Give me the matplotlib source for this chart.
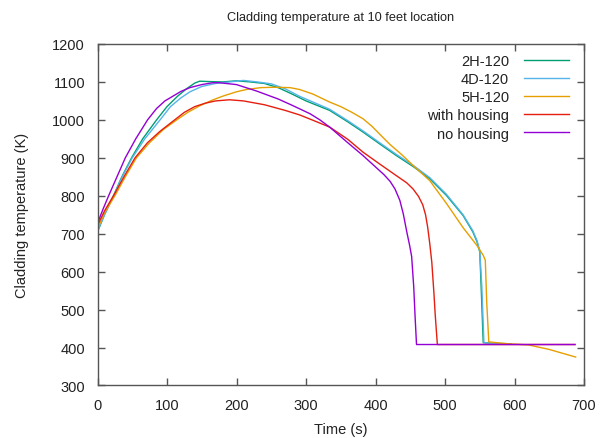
import matplotlib
matplotlib.use("Agg")
import matplotlib.pyplot as plt

plt.rcParams['font.family'] = ['Liberation Sans', 'DejaVu Sans']

title = "Cladding temperature at 10 feet location"
xlabel = "Time (s)"
ylabel = "Cladding temperature (K)"
labels = ["2H-120", "4D-120", "5H-120", "with housing", "no housing"]
colors = ["#009e73", "#56b4e9", "#e69f00", "#e51e10", "#9400d3"]

t_2h = [0, 10, 23, 35, 49, 65, 85, 100, 115, 128, 140, 147, 160, 180, 200, 220, 240, 260, 280,
        300, 334, 360, 382, 405, 430, 455, 478, 502, 526, 540, 546, 550, 552, 555, 570, 595]
T_2h = [705, 750, 800, 850, 900, 950, 1000, 1035, 1062, 1082, 1097, 1102, 1101, 1100, 1103, 1100,
        1096, 1085, 1068, 1050, 1025, 995, 968, 938, 906, 876, 845, 801, 748, 705, 679, 652, 560,
        413, 411, 410]

t_4d = [0, 10, 23, 35, 50, 68, 90, 105, 120, 133, 150, 170, 190, 210, 230, 250, 270, 291, 334,
        360, 382, 405, 430, 455, 478, 502, 526, 540, 546, 550, 553, 556, 570, 595]
T_4d = [707, 750, 800, 848, 900, 950, 1000, 1035, 1058, 1074, 1088, 1096, 1100, 1104, 1100, 1095,
        1082, 1062, 1028, 998, 971, 941, 909, 879, 848, 804, 750, 708, 682, 655, 560, 413, 410, 410]

t_5h = [0, 10, 25, 40, 56, 75, 95, 114, 130, 147, 165, 181, 200, 214, 235, 253, 277, 291, 310,
        334, 350, 366, 382, 395, 410, 421, 438, 454, 478, 502, 526, 546, 555, 558, 560, 563, 590,
        620, 650, 688]
T_5h = [712, 755, 800, 850, 900, 940, 975, 1000, 1020, 1037, 1052, 1063, 1074, 1080, 1085, 1086,
        1085, 1080, 1068, 1047, 1035, 1020, 1003, 983, 955, 935, 908, 880, 840, 780, 716, 669, 643,
        630, 520, 415, 410, 407, 395, 375]

t_with = [0, 10, 23, 38, 54, 72, 90, 111, 125, 140, 155, 170, 190, 210, 240, 270, 291, 310, 334,
          360, 382, 405, 430, 445, 454, 462, 468, 472, 475, 478, 481, 484, 486, 489, 500, 600, 687]
T_with = [722, 760, 800, 850, 900, 940, 970, 1000, 1020, 1035, 1044, 1050, 1053, 1050, 1040, 1025,
          1013, 999, 981, 949, 915, 885, 853, 834, 818, 798, 776, 750, 718, 675, 625, 545, 484,
          408, 408, 408, 408]

t_no = [0, 8, 16, 28, 40, 55, 72, 85, 97, 109, 120, 133, 150, 166, 175, 200, 229, 260, 277, 291,
        306, 320, 334, 360, 382, 400, 412, 421, 428, 435, 440, 445, 449, 452, 455, 457, 459, 500,
        600, 687]
T_no = [728, 765, 800, 850, 900, 950, 1000, 1030, 1050, 1063, 1075, 1085, 1093, 1098, 1098, 1093,
        1076, 1055, 1041, 1029, 1016, 1000, 981, 940, 906, 876, 856, 838, 818, 788, 752, 705, 670,
        640, 560, 480, 408, 408, 408, 408]

series_t = [t_2h, t_4d, t_5h, t_with, t_no]
series_T = [T_2h, T_4d, T_5h, T_with, T_no]

fig = plt.figure(figsize=(6.03, 4.39), dpi=100)
ax = fig.add_axes([0.1617, 0.1196, 0.9685 - 0.1617, 0.8975 - 0.1196])

for t, T, lab, c in zip(series_t, series_T, labels, colors):
    ax.plot(t, T, color=c, lw=1.0, label=lab)

ax.set_xlim(0, 700)
ax.set_ylim(300, 1200)
ax.set_xticks(range(0, 701, 100))
ax.set_yticks(range(300, 1201, 100))

txtc = "#222222"
ax.tick_params(direction="in", length=5, width=1, top=True, right=True,
               labelsize=10.5, colors="#555555", labelcolor=txtc)
ax.tick_params(axis="x", pad=9)
ax.tick_params(axis="y", pad=9)
for s in ax.spines.values():
    s.set_color("#555555")
    s.set_linewidth(1.0)

ax.set_xlabel(xlabel, fontsize=10.5, color=txtc, labelpad=7)
ax.set_ylabel(ylabel, fontsize=10.5, color=txtc, labelpad=17)
fig.text(0.564, 0.958, title, ha="center", va="center", fontsize=9.2, color=txtc)

leg = ax.legend(loc="upper right", frameon=False, markerfirst=False, fontsize=10.5,
                handlelength=3.1, handletextpad=1.0, labelspacing=0.28,
                borderaxespad=0.3, bbox_to_anchor=(0.99, 1.0))
for txt in leg.get_texts():
    txt.set_color(txtc)
    txt.set_ha("right")

fig.savefig("out.png", dpi=100)
